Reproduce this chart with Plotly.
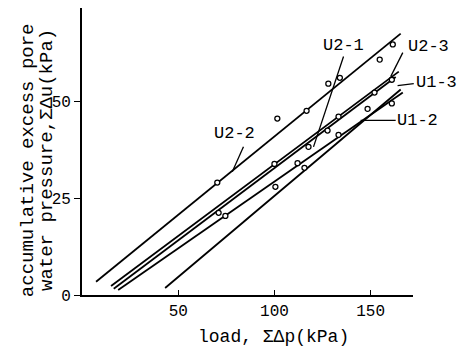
import plotly.graph_objects as go

# fitted lines (start/end in data coords)
line_names = ["U2-2", "U2-1", "U2-3", "U1-3", "U1-2"]
line_x = [[7.3, 165.6], [16.5, 163.0], [15.1, 164.6], [43.2, 165.6], [18.8, 166.7]]
line_y = [[3.4, 67.4], [1.6, 56.2], [2.3, 57.6], [1.8, 53.0], [1.3, 52.2]]

# measured points
pts = {
    "U2-2": ([70.3, 101.5, 116.7, 128.0, 134.0, 154.7, 161.5],
             [29.0, 45.5, 47.5, 54.5, 56.0, 60.7, 64.6]),
    "U2-1": ([71.0, 117.7, 127.6], [21.2, 38.2, 42.4]),
    "U2-3": ([100.0, 133.3, 152.0, 161.0], [33.8, 46.0, 52.2, 55.5]),
    "U1-3": ([100.5, 115.6, 133.3, 148.4], [27.9, 32.8, 41.3, 48.0]),
    "U1-2": ([74.5, 112.0, 161.0], [20.4, 34.0, 49.4]),
}

# labels: text position and leader (from -> to), in data units
lab_text = ["U2-2", "U2-1", "U2-3", "U1-3", "U1-2"]
lab_x = [79.2, 135.9, 180.2, 184.0, 174.5]
lab_y = [41.6, 64.3, 64.1, 54.8, 45.0]
lead_x0 = [83.9, 135.9, 166.7, 172.4, 163.0]
lead_y0 = [38.2, 61.5, 62.5, 54.5, 45.0]
lead_x1 = [78.1, 120.3, 160.4, 164.0, 144.8]
lead_y1 = [31.8, 38.2, 56.3, 54.0, 45.0]

xticks = [50, 100, 150]
yticks = [0, 25, 50]

ytitle_lines = ["accumulative excess pore", "water pressure,ΣΔu(kPa)"]
xtitle = "load, ΣΔp(kPa)"

XMAX, YMAX = 172, 74
FONT = "Liberation Mono, Courier New, monospace"

fig = go.Figure()
for n, xs, ys in zip(line_names, line_x, line_y):
    fig.add_trace(go.Scatter(x=xs, y=ys, mode="lines",
                             line=dict(color="black", width=1.8),
                             showlegend=False, hoverinfo="skip"))
for n, (xs, ys) in pts.items():
    fig.add_trace(go.Scatter(x=xs, y=ys, mode="markers",
                             marker=dict(symbol="circle", size=5, color="white",
                                         line=dict(color="black", width=1.3)),
                             showlegend=False, cliponaxis=False))

ann = []
for t, tx, ty in zip(lab_text, lab_x, lab_y):
    ann.append(dict(x=tx / XMAX, y=ty / YMAX, xref="paper", yref="paper", text=t,
                    showarrow=False, xanchor="center", yanchor="middle",
                    font=dict(family=FONT, size=17, color="black")))
shapes = []
for x0, y0, x1, y1 in zip(lead_x0, lead_y0, lead_x1, lead_y1):
    shapes.append(dict(type="line", xref="paper", yref="paper",
                       x0=x0 / XMAX, y0=y0 / YMAX, x1=x1 / XMAX, y1=y1 / YMAX,
                       line=dict(color="black", width=1.3)))
for t, px in zip(ytitle_lines, [-0.163, -0.106]):
    ann.append(dict(x=px, y=0.47, xref="paper", yref="paper", text=t,
                    textangle=-90, showarrow=False, xanchor="center",
                    yanchor="middle",
                    font=dict(family=FONT, size=19, color="black")))
ann.append(dict(x=0.58, y=-0.146, xref="paper", yref="paper",
                text=xtitle, showarrow=False, xanchor="center", yanchor="middle",
                font=dict(family=FONT, size=18, color="black")))

fig.update_layout(
    width=458, height=348,
    margin=dict(l=82, r=45, t=8, b=53, autoexpand=False),
    paper_bgcolor="white", plot_bgcolor="white",
    annotations=ann, shapes=shapes,
    xaxis=dict(range=[0, XMAX], tickvals=xticks, ticks="inside", ticklen=5,
               tickwidth=1.3, tickcolor="black", showline=True, linecolor="black",
               linewidth=1.8, showgrid=False, zeroline=False, automargin=False,
               tickfont=dict(family=FONT, size=16, color="black")),
    yaxis=dict(range=[0, YMAX], tickvals=yticks, ticks="outside", ticklen=6,
               tickwidth=1.3, tickcolor="black", showline=True, linecolor="black",
               linewidth=1.8, showgrid=False, zeroline=False, automargin=False,
               tickfont=dict(family=FONT, size=16, color="black")),
)
fig.write_html("out.html", config={"displayModeBar": False},
               post_script="document.body.style.margin='0';document.body.style.padding='0';")
